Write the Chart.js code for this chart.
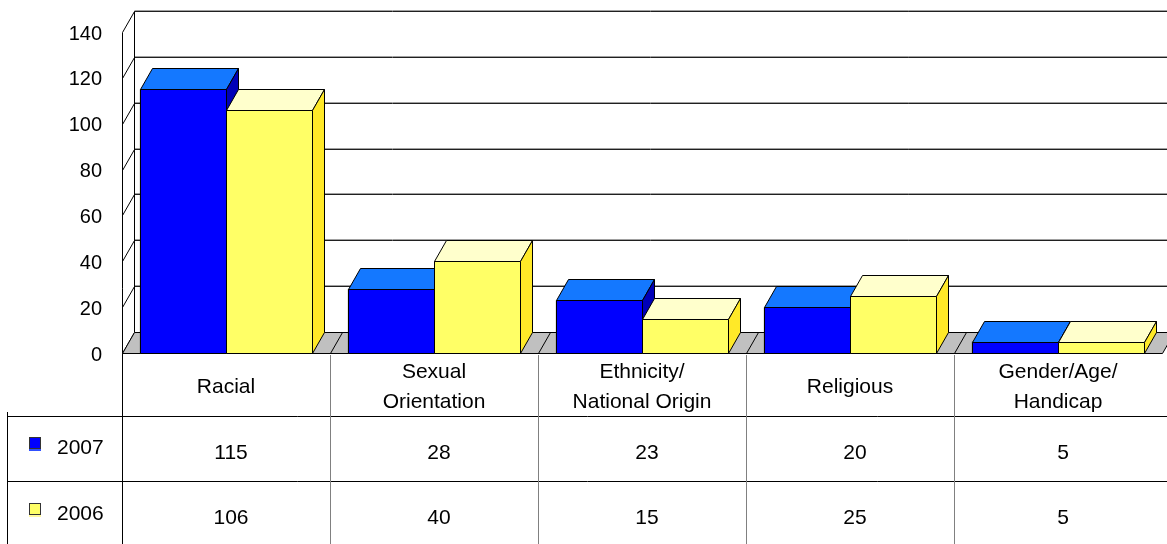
<!DOCTYPE html>
<html>
<head>
<meta charset="utf-8">
<script src="https://cdn.jsdelivr.net/npm/chart.js@4"></script>
<style>
  html, body { margin: 0; padding: 0; background: #fff; }
  canvas { display: block; }
</style>
</head>
<body>
<canvas id="myChart" width="1167" height="544"></canvas>
<script>
// values
const categories = [['Racial'], ['Sexual', 'Orientation'], ['Ethnicity/', 'National Origin'], ['Religious'], ['Gender/Age/', 'Handicap']];
const seriesNames = ['2007', '2006'];
const values2007 = [115, 28, 23, 20, 5];
const values2006 = [106, 40, 15, 25, 5];
const yMin = 0;
const yMax = 140;
const yStep = 20;

const FONT = '21px "Liberation Sans", Arial, sans-serif';
const depth = { dx: 12, dy: -21 };
const colors = [
  { front: '#0000ff', top: '#1478ff', side: '#0000b8', strip: '#3050ff' },
  { front: '#ffff66', top: '#ffffcc', side: '#ffe928', strip: '#fff8a0' }
];

function line(ctx, x0, y0, x1, y1, color) {
  ctx.strokeStyle = color;
  ctx.lineWidth = 1;
  ctx.beginPath();
  ctx.moveTo(x0, y0);
  ctx.lineTo(x1, y1);
  ctx.stroke();
}

function poly(ctx, pts, fill) {
  ctx.beginPath();
  ctx.moveTo(pts[0][0], pts[0][1]);
  for (let i = 1; i < pts.length; i++) ctx.lineTo(pts[i][0], pts[i][1]);
  ctx.closePath();
  ctx.fillStyle = fill;
  ctx.fill();
  ctx.strokeStyle = '#000';
  ctx.lineWidth = 1;
  ctx.stroke();
}

function drawBox(ctx, x0, x1, top, base, c) {
  const dx = depth.dx, dy = depth.dy;
  poly(ctx, [[x0, top], [x1, top], [x1, base], [x0, base]], c.front);
  poly(ctx, [[x0, top], [x1, top], [x1 + dx, top + dy], [x0 + dx, top + dy]], c.top);
  poly(ctx, [[x1, top], [x1 + dx, top + dy], [x1 + dx, base + dy], [x1, base]], c.side);
}

const threeD = {
  id: 'threeD',
  beforeDatasetsDraw(chart) {
    const ctx = chart.ctx;
    const y = chart.scales.y;
    const x = chart.scales.x;
    const dx = depth.dx, dy = depth.dy;
    const left = Math.round(x.left) + 0.5;
    const right = Math.round(x.right) + 0.5;
    const base = Math.round(y.getPixelForValue(yMin)) + 0.5;
    ctx.save();
    // back wall grid + left wall
    for (let v = yMin; v <= yMax; v += yStep) {
      const py = Math.round(y.getPixelForValue(v)) + 0.5;
      if (v > yMin) {
        line(ctx, left + dx, py + dy - 1, chart.width, py + dy - 1, '#a0a0a0');
        line(ctx, left + dx, py + dy, chart.width, py + dy, '#202020');
      }
      line(ctx, left, py, left + dx, py + dy, '#000');
    }
    const topY = Math.round(y.getPixelForValue(yMax)) + 0.5;
    line(ctx, left, topY, left, chart.height, '#000');
    line(ctx, left + dx, topY + dy, left + dx, base + dy, '#000');
    // floor
    poly(ctx, [[left, base], [right, base], [right + dx, base + dy], [left + dx, base + dy]], '#c0c0c0');
    const n = categories.length;
    const cw = (x.right - x.left) / n;
    for (let i = 1; i < n; i++) {
      const bx = Math.round(x.left + i * cw) + 0.5;
      line(ctx, bx, base, bx + dx, base + dy, '#000');
    }
    ctx.restore();
  },
  afterDatasetsDraw(chart) {
    const ctx = chart.ctx;
    ctx.save();
    for (let i = 0; i < categories.length; i++) {
      chart.data.datasets.forEach(function (ds, d) {
        const bar = chart.getDatasetMeta(d).data[i];
        const x0 = Math.round(bar.x - bar.width / 2) + 0.5;
        const x1 = Math.round(bar.x + bar.width / 2) + 0.5;
        drawBox(ctx, x0, x1, Math.round(bar.y) + 0.5, Math.round(bar.base) + 0.5, colors[d]);
      });
    }
    ctx.restore();
  },
  afterDraw(chart) {
    const ctx = chart.ctx;
    const x = chart.scales.x;
    const y = chart.scales.y;
    const n = categories.length;
    const cw = (x.right - x.left) / n;
    const top = Math.round(y.getPixelForValue(yMin));
    const row1 = 416, row2 = 481, bottom = chart.height;
    ctx.save();
    // table rows and columns
    line(ctx, 8, row1 + 0.5, chart.width, row1 + 0.5, '#000');
    line(ctx, 8, row2 + 0.5, chart.width, row2 + 0.5, '#000');
    line(ctx, 7.5, row1 - 4, 7.5, bottom, '#000');
    for (let i = 1; i < n; i++) {
      const bx = Math.round(x.left + i * cw) + 0.5;
      line(ctx, bx, top + 2, bx, bottom, '#808080');
    }
    ctx.font = FONT;
    ctx.fillStyle = '#000';
    ctx.textAlign = 'center';
    ctx.textBaseline = 'middle';
    const rows = [values2007, values2006];
    for (let i = 0; i < n; i++) {
      const cx = x.left + (i + 0.5) * cw;
      const lines = categories[i];
      const lh = 30;
      const mid = (top + row1) / 2 + 3;
      lines.forEach(function (t, k) {
        ctx.fillText(t, cx, mid + (k - (lines.length - 1) / 2) * lh);
      });
      ctx.fillText(String(rows[0][i]), cx + 5, (row1 + row2) / 2 + 5);
      ctx.fillText(String(rows[1][i]), cx + 5, (row2 + bottom) / 2 + 6);
    }
    // legend column
    const ly = [(row1 + row2) / 2, (row2 + bottom) / 2 + 2];
    ctx.textAlign = 'left';
    seriesNames.forEach(function (name, d) {
      const sy = Math.round(ly[d] - 12);
      ctx.fillStyle = colors[d].strip;
      ctx.fillRect(29, sy + 11, 12, 3);
      ctx.fillStyle = colors[d].front;
      ctx.fillRect(29, sy, 12, 11);
      ctx.strokeStyle = '#333';
      ctx.strokeRect(29.5, sy + 0.5, 11, 11);
      ctx.fillStyle = '#000';
      ctx.fillText(name, 57, ly[d]);
    });
    ctx.restore();
  }
};

const ctx = document.getElementById('myChart');

new Chart(ctx, {
  type: 'bar',
  data: {
    labels: categories,
    datasets: [{
      label: seriesNames[0],
      data: values2007,
      backgroundColor: colors[0].front,
      borderColor: '#000',
      borderWidth: 1
    }, {
      label: seriesNames[1],
      data: values2006,
      backgroundColor: colors[1].front,
      borderColor: '#000',
      borderWidth: 1
    }]
  },
  options: {
    responsive: false,
    animation: false,
    devicePixelRatio: 1,
    categoryPercentage: 0.83,
    barPercentage: 1,
    layout: { padding: { top: 31, right: 5, bottom: 191, left: 0 } },
    plugins: {
      legend: { display: false },
      tooltip: { enabled: false }
    },
    scales: {
      x: { display: false },
      y: {
        min: yMin,
        max: yMax,
        ticks: {
          stepSize: yStep,
          color: '#000',
          font: { family: '"Liberation Sans", Arial, sans-serif', size: 20 },
          padding: 20,
          labelOffset: 2
        },
        grid: { display: false, drawTicks: false },
        border: { display: false },
        afterFit: function (scale) { scale.width = 122; }
      }
    }
  },
  plugins: [threeD]
});
</script>
</body>
</html>
